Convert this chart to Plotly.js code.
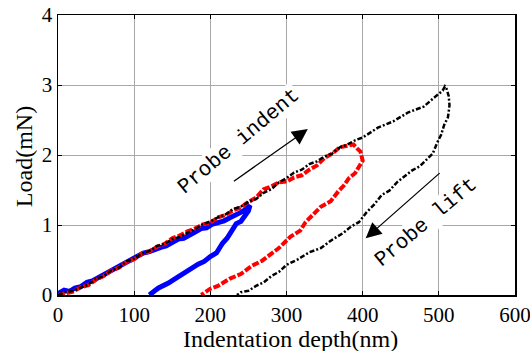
<!DOCTYPE html>
<html>
<head>
<meta charset="utf-8">
<script src="https://cdn.plot.ly/plotly-3.0.1.min.js"></script>
<style>html,body{margin:0;padding:0;background:#fff;}#chart{width:530px;height:351px;}</style>
</head>
<body>
<div id="chart"></div>
<script>
// Blue loop (smallest indentation)
const blueX = [0,8,15,22,30,38,45,52,60,68,75,82,90,98,105,112,120,128,135,142,150,158,165,172,180,188,195,202,210,218,225,232,240,246,250,252,
  250,246,240,234,230,226,222,216,212,208,200,192,184,176,168,160,152,145,138,132,127,123,120];
const blueY = [0.02,0.07,0.05,0.10,0.12,0.18,0.20,0.24,0.30,0.33,0.38,0.41,0.47,0.52,0.54,0.60,0.62,0.66,0.68,0.70,0.75,0.80,0.81,0.86,0.90,0.95,0.96,1.01,1.03,1.06,1.10,1.13,1.18,1.22,1.25,1.28,
  1.20,1.13,1.05,1.02,0.95,0.88,0.81,0.74,0.68,0.60,0.55,0.48,0.44,0.38,0.33,0.27,0.22,0.17,0.14,0.10,0.06,0.03,0.0];

// Red loop (intermediate indentation)
const redX = [0,10,20,30,40,50,60,70,80,90,100,110,120,130,140,150,160,170,180,190,200,210,220,230,240,250,260,270,280,290,300,310,320,330,340,350,360,370,380,388,
  393,397,400,396,390,382,375,368,358,345,335,325,318,305,290,280,268,255,240,225,210,200,192,188];
const redY = [0.0,0.03,0.05,0.11,0.14,0.22,0.27,0.35,0.39,0.47,0.51,0.59,0.62,0.69,0.73,0.81,0.85,0.91,0.95,1.01,1.03,1.11,1.14,1.21,1.25,1.33,1.39,1.51,1.55,1.61,1.62,1.68,1.71,1.79,1.85,1.96,2.02,2.11,2.14,2.15,
  2.09,2.05,1.92,1.84,1.74,1.67,1.56,1.48,1.34,1.26,1.14,1.04,0.92,0.83,0.67,0.59,0.49,0.42,0.30,0.23,0.13,0.09,0.02,0.0];

// Black loop (largest indentation)
const blackX = [0,10,20,30,40,50,60,70,80,90,100,110,120,130,140,150,160,170,180,190,200,210,220,230,240,250,260,270,280,290,300,310,320,330,340,350,360,370,380,390,400,420,440,460,480,495,505,508,
  510,513,514,512,507,503,498,492,485,475,465,455,445,435,425,415,405,395,385,375,360,345,330,315,300,290,280,270,260,250,240,235];
const blackY = [0.0,0.04,0.06,0.11,0.15,0.23,0.27,0.35,0.39,0.48,0.52,0.59,0.63,0.70,0.73,0.80,0.83,0.89,0.94,1.01,1.05,1.11,1.15,1.23,1.26,1.33,1.37,1.46,1.51,1.61,1.67,1.75,1.79,1.87,1.91,1.98,2.02,2.11,2.15,2.21,2.25,2.39,2.48,2.61,2.69,2.83,2.92,2.98,
  2.95,2.84,2.71,2.54,2.43,2.29,2.18,2.02,1.94,1.84,1.78,1.69,1.61,1.49,1.43,1.29,1.18,1.04,0.98,0.89,0.79,0.67,0.61,0.51,0.43,0.33,0.27,0.18,0.13,0.06,0.04,0.0];

const xTicks = [0,100,200,300,400,500,600];
const yTicks = [0,1,2,3,4];

const serif = 'Liberation Serif, Times New Roman, serif';
const mono = 'Liberation Mono, Courier New, monospace';

const traces = [
  {x: blueX, y: blueY, mode: 'lines', line: {color: '#0000ff', width: 5}, hoverinfo: 'skip'},
  {x: redX, y: redY, mode: 'lines', line: {color: '#ff0000', width: 4, dash: '7px,2px'}, hoverinfo: 'skip'},
  {x: blackX, y: blackY, mode: 'lines', line: {color: '#000000', width: 2.5, dash: '5px,2px,2px,2px'}, hoverinfo: 'skip'}
];

const axisCommon = {
  showline: true, mirror: 'ticks', linecolor: '#000', linewidth: 1.5,
  ticks: 'inside', ticklen: 4, tickcolor: '#000',
  showgrid: true, gridcolor: '#a8a8a8', gridwidth: 1,
  zeroline: false, tickfont: {family: serif, size: 21, color: '#000'},
  ticklabeloverflow: 'allow'
};

const layout = {
  width: 530, height: 351,
  margin: {l: 58, r: 15, t: 15, b: 56},
  paper_bgcolor: '#fff', plot_bgcolor: '#fff',
  showlegend: false,
  xaxis: Object.assign({}, axisCommon, {
    range: [0, 600], tickvals: xTicks, ticktext: xTicks.map(String), automargin: false
  }),
  yaxis: Object.assign({}, axisCommon, {
    range: [0, 4], tickvals: yTicks, ticktext: yTicks.map(String), automargin: false
  }),
  annotations: [
    {x: 0.508, y: -0.158, xref: 'paper', yref: 'paper', xanchor: 'center', yanchor: 'middle',
     text: 'Indentation depth(nm)', showarrow: false, font: {family: serif, size: 24, color: '#000'}},
    {x: -0.074, y: 0.493, xref: 'paper', yref: 'paper', xanchor: 'center', yanchor: 'middle',
     text: 'Load(mN)', showarrow: false, textangle: -90, font: {family: serif, size: 24, color: '#000'}},
    {x: 237, y: 2.2, xref: 'x', yref: 'y', text: 'Probe indent', showarrow: false, textangle: -40,
     font: {family: mono, size: 21, color: '#000'}, bgcolor: '#fff'},
    {x: 483, y: 1.04, xref: 'x', yref: 'y', text: 'Probe lift', showarrow: false, textangle: -40,
     font: {family: mono, size: 21, color: '#000'}, bgcolor: '#fff'},
    {x: 328, y: 2.37, ax: 229, ay: 1.61, xref: 'x', yref: 'y', axref: 'x', ayref: 'y', text: '',
     showarrow: true, arrowhead: 2, arrowsize: 2.4, arrowwidth: 1.3, arrowcolor: '#000'},
    {x: 404, y: 0.81, ax: 503, ay: 1.76, xref: 'x', yref: 'y', axref: 'x', ayref: 'y', text: '',
     showarrow: true, arrowhead: 2, arrowsize: 2.4, arrowwidth: 1.3, arrowcolor: '#000'}
  ]
};

Plotly.newPlot('chart', traces, layout, {displayModeBar: false, staticPlot: true});
</script>
</body>
</html>
